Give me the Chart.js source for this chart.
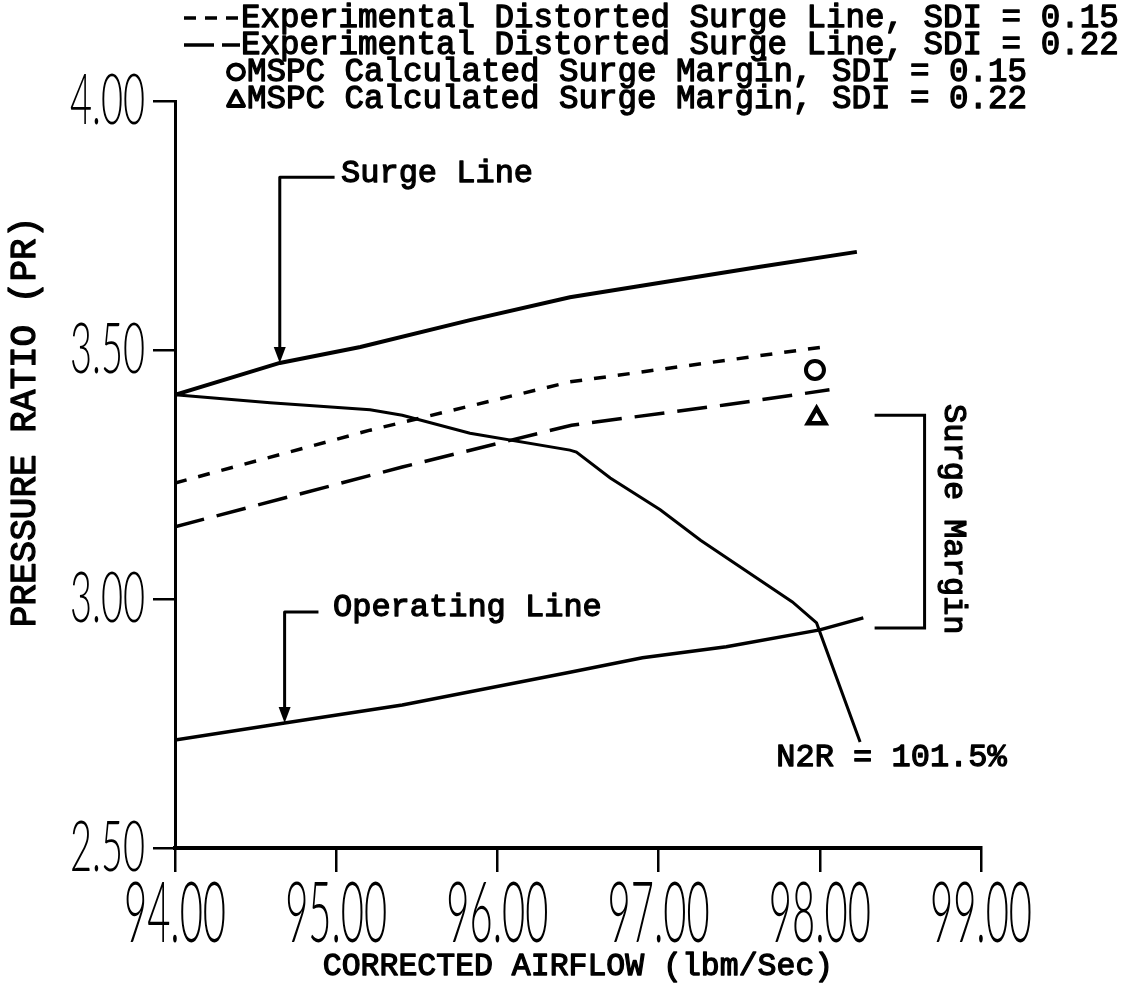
<!DOCTYPE html>
<html>
<head>
<meta charset="utf-8">
<script src="https://cdn.jsdelivr.net/npm/chart.js@4.4.1/dist/chart.umd.min.js"></script>
<style>
  html, body { margin: 0; padding: 0; background: #fff; }
  #wrap { width: 1133px; height: 983px; position: relative; }
</style>
</head>
<body>
<div id="wrap"><canvas id="c" width="1133" height="983"></canvas></div>
<script>
// Compressor map: pressure ratio vs corrected airflow
const xTickLabels = ['94.00', '95.00', '96.00', '97.00', '98.00', '99.00'];
const yTickLabels = ['2.50', '3.00', '3.50', '4.00'];

// Clean-inlet surge line
const surgeX = [94.00, 94.65, 95.15, 95.83, 96.45, 97.01, 97.63, 98.23];
const surgeY = [3.410, 3.474, 3.506, 3.560, 3.606, 3.635, 3.667, 3.697];

// Experimental distorted surge line, SDI = 0.15
const sdi15X = [94.00, 95.21, 96.45, 97.21, 98.02];
const sdi15Y = [3.233, 3.339, 3.436, 3.470, 3.506];

// Experimental distorted surge line, SDI = 0.22
const sdi22X = [94.00, 95.41, 96.46, 97.42, 98.06];
const sdi22Y = [3.145, 3.265, 3.349, 3.390, 3.420];

// Speed line, N2R = 101.5%
const n2rX = [94.00, 94.59, 95.21, 95.41, 95.83, 96.45, 96.49, 96.70, 97.01, 97.26, 97.83, 97.98, 98.00, 98.25];
const n2rY = [3.410, 3.394, 3.380, 3.369, 3.333, 3.299, 3.295, 3.243, 3.179, 3.118, 2.994, 2.952, 2.934, 2.713];

// Operating line
const operX = [94.00, 94.68, 95.41, 96.45, 96.90, 97.42, 98.00, 98.27];
const operY = [2.717, 2.751, 2.787, 2.853, 2.882, 2.904, 2.938, 2.962];

// MSPC calculated surge points
const mspc15 = { x: 97.97, y: 3.460 };
const mspc22 = { x: 97.98, y: 3.363 };

// Surge margin bracket (from distorted surge point down to operating line)
const bracketX = [98.34, 98.65, 98.65, 98.34];
const bracketY = [3.369, 3.369, 2.942, 2.942];

const pts = (xs, ys) => xs.map((x, i) => ({ x, y: ys[i] }));

const MONO = '"Liberation Mono", "Courier New", monospace';

// Leader annotations: arrow tip sits on a curve point, label off to the right
const notes = [
  { text: 'Surge Line', tip: { x: surgeX[1], y: surgeY[1] }, level: 3.847, lineEnd: 94.99, textX: 95.03 },
  { text: 'Operating Line', tip: { x: operX[1], y: operY[1] }, level: 2.974, lineEnd: 94.89, textX: 94.98 }
];

function stretched(ctx, str, x, y, align, sx, sy) {
  ctx.save();
  ctx.translate(x, y);
  ctx.scale(sx, sy);
  ctx.textAlign = align;
  ctx.textBaseline = 'middle';
  ctx.fillText(str, 0, 0);
  ctx.restore();
}

// Typewriter-weight text: regular face thickened by a thin outline
function typed(ctx, str, x, y) {
  ctx.fillText(str, x, y);
  ctx.strokeText(str, x, y);
}

const TEXT_STROKE = 1.3;

const textPlugin = {
  id: 'figureText',
  afterDraw(chart) {
    const ctx = chart.ctx;
    const xs = chart.scales.x, ys = chart.scales.y;
    ctx.save();
    ctx.fillStyle = '#000';
    ctx.strokeStyle = '#000';

    // Tall plotter-style tick labels
    ctx.font = '300 40px Lato';
    xs.ticks.forEach((t, i) => {
      stretched(ctx, xTickLabels[i], xs.getPixelForValue(t.value), 915, 'center', 1.0, 2.1);
    });
    ys.ticks.forEach((t, i) => {
      stretched(ctx, yTickLabels[i], 145, ys.getPixelForValue(t.value), 'right', 0.95, 1.75);
    });

    ctx.lineWidth = TEXT_STROKE;
    ctx.lineJoin = 'round';

    // Axis titles
    ctx.font = '31.5px ' + MONO;
    ctx.textAlign = 'center';
    ctx.textBaseline = 'middle';
    typed(ctx, 'CORRECTED AIRFLOW (lbm/Sec)', (xs.left + xs.right) / 2, 967);
    ctx.save();
    ctx.translate(25, 422);
    ctx.rotate(-Math.PI / 2);
    ctx.font = '36px ' + MONO;
    typed(ctx, 'PRESSURE RATIO (PR)', 0, 0);
    ctx.restore();

    // Leader lines with arrowheads
    ctx.font = '32px ' + MONO;
    ctx.textAlign = 'left';
    notes.forEach(n => {
      const tx = xs.getPixelForValue(n.tip.x), ty = ys.getPixelForValue(n.tip.y);
      const ly = ys.getPixelForValue(n.level);
      ctx.lineWidth = 3;
      ctx.beginPath();
      ctx.moveTo(xs.getPixelForValue(n.lineEnd), ly);
      ctx.lineTo(tx, ly);
      ctx.lineTo(tx, ty - 12);
      ctx.stroke();
      ctx.beginPath();
      ctx.moveTo(tx, ty);
      ctx.lineTo(tx - 6, ty - 16);
      ctx.lineTo(tx + 6, ty - 16);
      ctx.closePath();
      ctx.fill();
      ctx.lineWidth = TEXT_STROKE;
      typed(ctx, n.text, xs.getPixelForValue(n.textX), ly - 4);
    });

    // Speed line label
    typed(ctx, 'N2R = 101.5%', xs.getPixelForValue(97.73), ys.getPixelForValue(2.681));

    // Surge margin label, reading downward
    ctx.save();
    ctx.translate(xs.getPixelForValue(98.83), ys.getPixelForValue(3.16));
    ctx.rotate(Math.PI / 2);
    ctx.textAlign = 'center';
    typed(ctx, 'Surge Margin', 0, 0);
    ctx.restore();

    // Key, top right
    const keyY = [18, 45, 72, 99];
    ctx.font = '32.5px ' + MONO;
    ctx.textAlign = 'left';
    ctx.lineWidth = 3.5;
    ctx.setLineDash([12, 9]);
    ctx.beginPath(); ctx.moveTo(184, keyY[0]); ctx.lineTo(240, keyY[0]); ctx.stroke();
    ctx.setLineDash([30, 8]);
    ctx.beginPath(); ctx.moveTo(184, keyY[1]); ctx.lineTo(240, keyY[1]); ctx.stroke();
    ctx.setLineDash([]);
    ctx.lineWidth = 4;
    ctx.beginPath(); ctx.ellipse(236, keyY[2], 8, 7.5, 0, 0, Math.PI * 2); ctx.stroke();
    ctx.beginPath();
    ctx.moveTo(236, keyY[3] - 8); ctx.lineTo(244, keyY[3] + 7); ctx.lineTo(228, keyY[3] + 7); ctx.closePath();
    ctx.stroke();
    ctx.lineWidth = TEXT_STROKE;
    typed(ctx, 'Experimental Distorted Surge Line, SDI = 0.15', 241, keyY[0]);
    typed(ctx, 'Experimental Distorted Surge Line, SDI = 0.22', 241, keyY[1]);
    typed(ctx, 'MSPC Calculated Surge Margin, SDI = 0.15', 247, keyY[2]);
    typed(ctx, 'MSPC Calculated Surge Margin, SDI = 0.22', 247, keyY[3]);
    ctx.restore();
  }
};

const solid = (data, w) => ({
  data, borderColor: '#000', borderWidth: w, pointRadius: 0, fill: false, tension: 0
});

new Chart(document.getElementById('c'), {
  type: 'line',
  data: {
    datasets: [
      solid(pts(surgeX, surgeY), 4),
      Object.assign(solid(pts(sdi15X, sdi15Y), 3.5), { borderDash: [12, 12] }),
      Object.assign(solid(pts(sdi22X, sdi22Y), 3.5), { borderDash: [30, 13] }),
      solid(pts(n2rX, n2rY), 3),
      solid(pts(operX, operY), 3.5),
      solid(pts(bracketX, bracketY), 3),
      {
        data: [mspc15], showLine: false, pointStyle: 'circle', pointRadius: 9,
        pointBorderWidth: 4, pointBorderColor: '#000', pointBackgroundColor: '#fff'
      },
      {
        data: [mspc22], showLine: false, pointStyle: 'triangle', pointRadius: 10,
        pointBorderWidth: 4.5, pointBorderColor: '#000', pointBackgroundColor: '#fff'
      }
    ]
  },
  options: {
    responsive: false,
    animation: false,
    devicePixelRatio: 1,
    layout: { padding: { top: 101, right: 152, left: 0, bottom: 0 } },
    plugins: { legend: { display: false }, tooltip: { enabled: false } },
    scales: {
      x: {
        type: 'linear', min: 94, max: 99,
        afterBuildTicks: s => { s.ticks = xTickLabels.map(v => ({ value: parseFloat(v) })); },
        afterFit: s => { s.height = 135; },
        ticks: { display: false },
        grid: { drawOnChartArea: false, drawTicks: true, tickLength: 24, color: '#000', lineWidth: 2.5 },
        border: { display: true, width: 4, color: '#000' }
      },
      y: {
        type: 'linear', min: 2.5, max: 4,
        afterBuildTicks: s => { s.ticks = yTickLabels.map(v => ({ value: parseFloat(v) })); },
        afterFit: s => { s.width = 175; },
        ticks: { display: false },
        grid: { drawOnChartArea: false, drawTicks: true, tickLength: 22, color: '#000', lineWidth: 2.5 },
        border: { display: true, width: 3, color: '#000' }
      }
    }
  },
  plugins: [textPlugin]
});
</script>
</body>
</html>
